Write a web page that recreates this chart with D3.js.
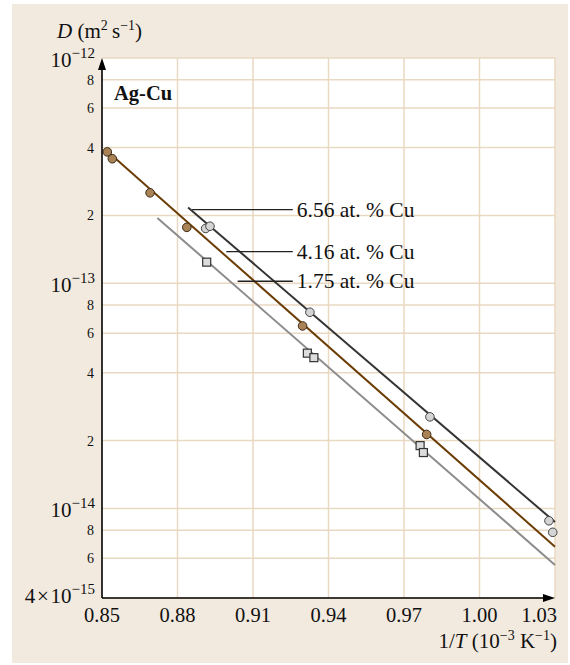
<!DOCTYPE html>
<html><head><meta charset="utf-8">
<script src="https://cdn.jsdelivr.net/npm/d3@7"></script>
<style>html,body{margin:0;padding:0;background:#fff;}svg{display:block;font-family:"Liberation Serif","Times New Roman",serif;}</style>
</head><body>
<svg id="c" width="570" height="665"></svg>
<script>
// ---- data ----
const xTicks = [0.85, 0.88, 0.91, 0.94, 0.97, 1.00, 1.03];
const yGrid = [1e-12, 8e-13, 6e-13, 4e-13, 2e-13, 1e-13, 8e-14, 6e-14, 4e-14, 2e-14, 1e-14, 8e-15, 6e-15, 4e-15];
const yMinorLabels = [8e-13, 6e-13, 4e-13, 2e-13, 8e-14, 6e-14, 4e-14, 2e-14, 8e-15, 6e-15];
const yDecadeLabels = [1e-12, 1e-13, 1e-14];
const seriesNames = ["6.56 at. % Cu", "4.16 at. % Cu", "1.75 at. % Cu"];
// 6.56 at.% Cu : light circles
const pts656x = [0.8912, 0.8929, 0.9326, 0.9803, 1.0276, 1.0291];
const pts656y = [1.75e-13, 1.79e-13, 7.43e-14, 2.55e-14, 8.81e-15, 7.83e-15];
// 4.16 at.% Cu : brown circles
const pts416x = [0.8521, 0.8541, 0.8691, 0.8837, 0.9297, 0.9790];
const pts416y = [3.83e-13, 3.57e-13, 2.52e-13, 1.77e-13, 6.46e-14, 2.13e-14];
// 1.75 at.% Cu : squares
const pts175x = [0.8916, 0.9316, 0.9342, 0.9764, 0.9777];
const pts175y = [1.24e-13, 4.89e-14, 4.67e-14, 1.90e-14, 1.77e-14];
// fitted lines (start / end)
const line656x = [0.8842, 1.03], line656y = [2.17e-13, 8.70e-15];
const line416x = [0.8513, 1.03], line416y = [3.92e-13, 6.76e-15];
const line175x = [0.8720, 1.03], line175y = [1.95e-13, 5.61e-15];
// label leaders (data coordinates)
const leaderStartX = [0.8858, 0.8994, 0.9039];
const leaderEndX = [0.9258, 0.9258, 0.9258];
const leaderY = [2.12e-13, 1.38e-13, 1.02e-13];

// ---- layout ----
const svg = d3.select("#c");
const L = 102, R = 555, T = 58, B = 598;
const x = d3.scaleLinear().domain([0.85, 1.03]).range([L, R]);
const y = d3.scaleLog().domain([4e-15, 1e-12]).range([B, T]);
const beige = "#f2eadf", grid = "#ead9c2", ink = "#111";

svg.append("rect").attr("x", 12).attr("y", 4).attr("width", 556).attr("height", 659).attr("fill", beige);
svg.append("rect").attr("x", L).attr("y", T).attr("width", R - L).attr("height", B - T).attr("fill", "#fff");

// grid
svg.append("g").selectAll("line").data(yGrid).join("line")
  .attr("x1", L).attr("x2", R).attr("y1", d => y(d)).attr("y2", d => y(d))
  .attr("stroke", grid).attr("stroke-width", 1.5);
svg.append("g").selectAll("line").data(xTicks.slice(1)).join("line")
  .attr("x1", d => x(d)).attr("x2", d => x(d)).attr("y1", T).attr("y2", B)
  .attr("stroke", grid).attr("stroke-width", 1.5);

// fitted lines
const lines = [
  {xs: line656x, ys: line656y, c: "#333333"},
  {xs: line416x, ys: line416y, c: "#6b3d05"},
  {xs: line175x, ys: line175y, c: "#8c8c8c"}
];
lines.forEach(l => {
  svg.append("line").attr("x1", x(l.xs[0])).attr("y1", y(l.ys[0]))
    .attr("x2", x(l.xs[1])).attr("y2", y(l.ys[1]))
    .attr("stroke", l.c).attr("stroke-width", 2);
});

// leaders + labels
seriesNames.forEach((n, i) => {
  svg.append("line").attr("x1", x(leaderStartX[i])).attr("x2", x(leaderEndX[i]))
    .attr("y1", y(leaderY[i])).attr("y2", y(leaderY[i])).attr("stroke", "#222").attr("stroke-width", 1.3);
  svg.append("text").attr("x", x(leaderEndX[i]) + 4).attr("y", y(leaderY[i]) + 7)
    .attr("font-size", 21.5).attr("fill", ink).text(n);
});

// markers
function circles(xs, ys, fill, stroke) {
  svg.append("g").selectAll("circle").data(xs.map((v, i) => [v, ys[i]])).join("circle")
    .attr("cx", d => x(d[0])).attr("cy", d => y(d[1])).attr("r", 4.3)
    .attr("fill", fill).attr("stroke", stroke).attr("stroke-width", 1);
}
circles(pts416x, pts416y, "#a98256", "#3a2a18");
circles(pts656x, pts656y, "#d4d4d4", "#444");
svg.append("g").selectAll("rect").data(pts175x.map((v, i) => [v, pts175y[i]])).join("rect")
  .attr("x", d => x(d[0]) - 4).attr("y", d => y(d[1]) - 4).attr("width", 8).attr("height", 8)
  .attr("fill", "#dcdcdc").attr("stroke", "#333").attr("stroke-width", 1.2);

// axes
svg.append("line").attr("x1", L).attr("x2", L).attr("y1", B).attr("y2", T + 8).attr("stroke", "#000").attr("stroke-width", 1.6);
svg.append("path").attr("d", `M${L},${T} L${L - 4},${T + 12} L${L + 4},${T + 12} Z`).attr("fill", "#000");
svg.append("line").attr("x1", L).attr("x2", R - 8).attr("y1", B).attr("y2", B).attr("stroke", "#000").attr("stroke-width", 1.6);
svg.append("path").attr("d", `M${R},${B} L${R - 12},${B - 4} L${R - 12},${B + 4} Z`).attr("fill", "#000");

// x tick labels
svg.append("g").selectAll("text").data(xTicks).join("text")
  .attr("x", (d, i) => i === xTicks.length - 1 ? 557 : x(d))
  .attr("y", B + 24)
  .attr("text-anchor", (d, i) => i === xTicks.length - 1 ? "end" : "middle")
  .attr("font-size", 20.5).attr("fill", ink).text(d => d.toFixed(2));

// y minor labels
svg.append("g").selectAll("text").data(yMinorLabels).join("text")
  .attr("x", L - 8).attr("y", d => y(d) + 5).attr("text-anchor", "end")
  .attr("font-size", 14).attr("fill", ink)
  .text(d => Math.round(d / Math.pow(10, Math.floor(Math.log10(d) + 1e-9))));

// y decade labels
yDecadeLabels.forEach(d => {
  const t = svg.append("text").attr("x", L - 7).attr("y", y(d) + 9).attr("text-anchor", "end")
    .attr("font-size", 21).attr("fill", ink);
  t.append("tspan").text("10");
  t.append("tspan").attr("dy", -9).attr("font-size", 15).text("\u2212" + Math.round(-Math.log10(d)));
});
{
  const t = svg.append("text").attr("x", L - 7).attr("y", y(4e-15) + 5).attr("text-anchor", "end")
    .attr("font-size", 21).attr("fill", ink);
  t.append("tspan").text("4\u200a\u00d7\u200a10");
  t.append("tspan").attr("dy", -9).attr("font-size", 15).text("\u221215");
}

// axis titles
{
  const t = svg.append("text").attr("x", 57).attr("y", 38).attr("font-size", 21).attr("fill", ink);
  t.append("tspan").attr("font-style", "italic").text("D");
  t.append("tspan").text(" (m");
  t.append("tspan").attr("dy", -8).attr("font-size", 14).text("2");
  t.append("tspan").attr("dy", 8).text("\u2009s");
  t.append("tspan").attr("dy", -8).attr("font-size", 14).text("\u22121");
  t.append("tspan").attr("dy", 8).text(")");
}
{
  const t = svg.append("text").attr("x", 557).attr("y", 648).attr("text-anchor", "end").attr("font-size", 21).attr("fill", ink);
  t.append("tspan").text("1/");
  t.append("tspan").attr("font-style", "italic").text("T");
  t.append("tspan").text(" (10");
  t.append("tspan").attr("dy", -8).attr("font-size", 14).text("\u22123");
  t.append("tspan").attr("dy", 8).text(" K");
  t.append("tspan").attr("dy", -8).attr("font-size", 14).text("\u22121");
  t.append("tspan").attr("dy", 8).text(")");
}
svg.append("text").attr("x", 114).attr("y", 100).attr("font-size", 20.5).attr("font-weight", "bold").attr("fill", ink).text("Ag-Cu");
</script>
</body></html>
